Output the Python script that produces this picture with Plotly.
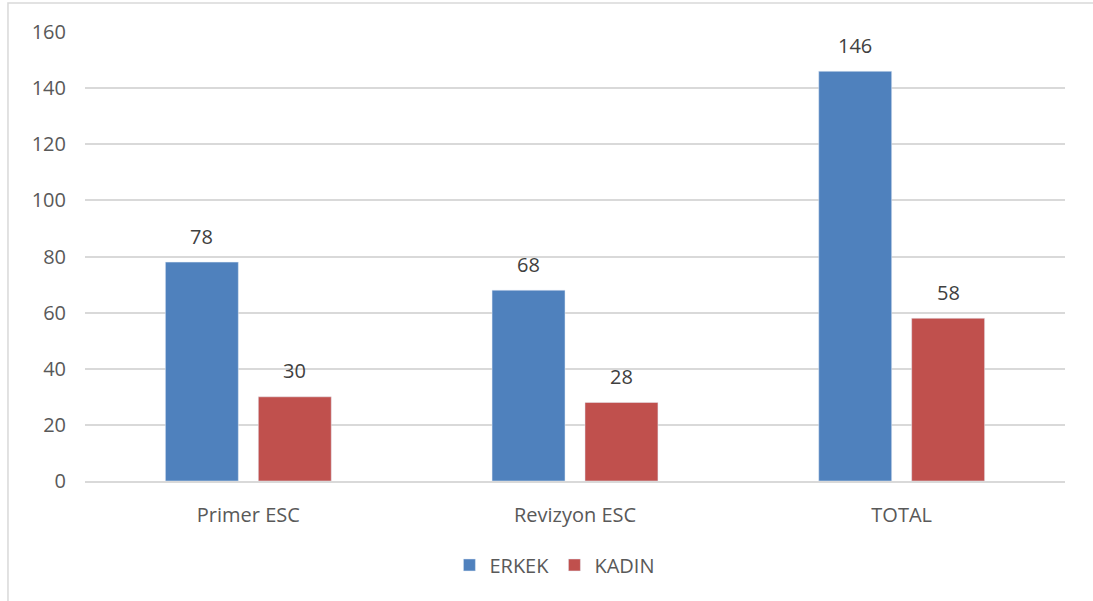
import plotly.graph_objects as go

categories = ["Primer ESC", "Revizyon ESC", "TOTAL"]
erkek = [78, 68, 146]
kadin = [30, 28, 58]
tick_vals = [0, 20, 40, 60, 80, 100, 120, 140, 160]

FONT = "Open Sans"
FS = 20
fig = go.Figure()
fig.add_trace(go.Bar(name="ERKEK", x=categories, y=erkek, marker_color="#4F81BD"))
fig.add_trace(go.Bar(name="KADIN", x=categories, y=kadin, marker_color="#C0504D"))

annotations = []
for series, shift in ((erkek, -46.5), (kadin, 46.5)):
    for cat, val in zip(categories, series):
        annotations.append(dict(x=cat, y=val, xref="x", yref="y", text=str(val),
                                showarrow=False, xshift=shift, yshift=26,
                                xanchor="center", yanchor="middle",
                                font=dict(size=FS, color="#404040", family=FONT)))

fig.update_layout(
    width=1093, height=601,
    margin=dict(l=85, r=28, t=32, b=120, autoexpand=False),
    paper_bgcolor="white", plot_bgcolor="white",
    barmode="group", bargap=0.431, bargroupgap=0.215,
    font=dict(family=FONT, size=FS, color="#595959"),
    showlegend=True,
    legend=dict(orientation="h", x=0.479, xanchor="center", y=-0.187, yanchor="middle",
                font=dict(size=FS, color="#595959"), itemwidth=30, tracegroupgap=0,
                entrywidth=60, entrywidthmode="pixels"),
    xaxis=dict(showgrid=False, showline=True, linecolor="#D9D9D9", linewidth=1.5,
               ticks="", tickfont=dict(size=FS, color="#595959"), ticklabelstandoff=15,
               automargin=False),
    yaxis=dict(range=[0, 160], tickvals=tick_vals, showgrid=True, gridcolor="#D9D9D9",
               gridwidth=1.5, zeroline=False, showline=False, ticks="",
               tickfont=dict(size=FS, color="#595959"), ticklabelstandoff=18,
               automargin=False),
    annotations=annotations,
    shapes=[dict(type="rect", xref="paper", yref="paper", x0=-0.0786, x1=1.1, y0=-0.3, y1=1.0646,
                 line=dict(color="#D9D9D9", width=1.5), fillcolor="rgba(0,0,0,0)", layer="below")],
)
fig.write_html("out.html", config={"displayModeBar": False},
               post_script="document.body.style.margin='0';")
